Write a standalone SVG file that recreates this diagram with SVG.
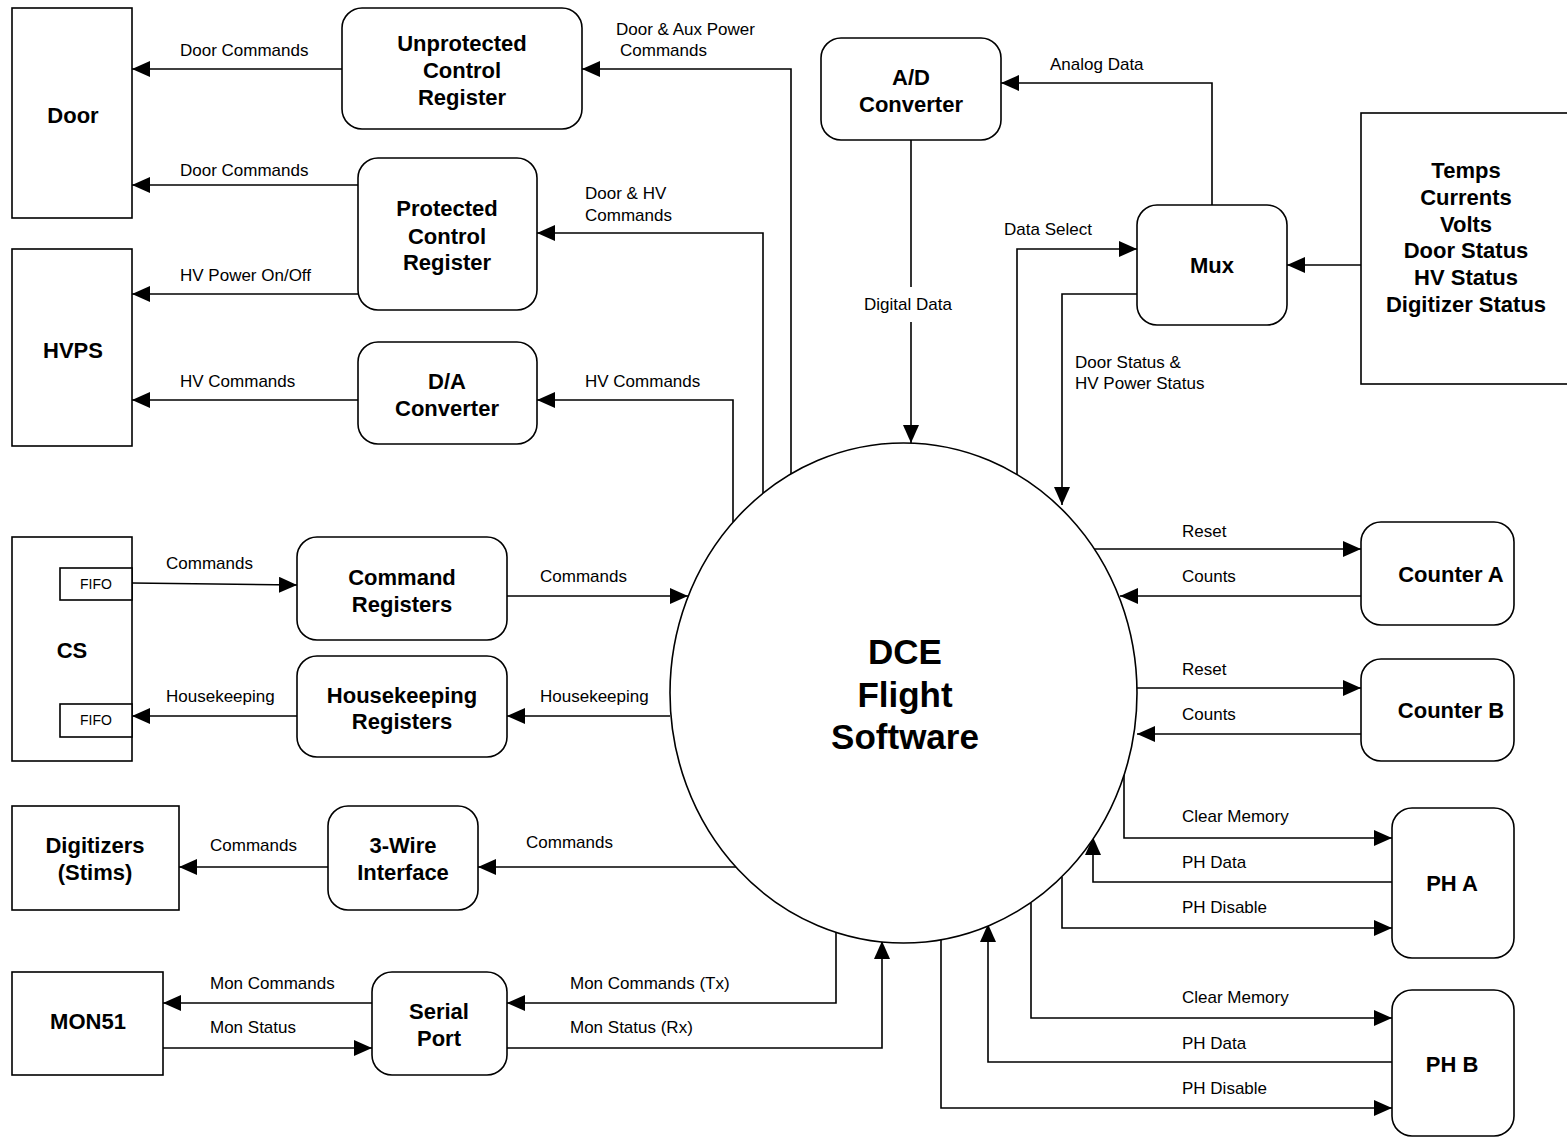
<svg xmlns="http://www.w3.org/2000/svg" width="1567" height="1137" viewBox="0 0 1567 1137">
  <style>
    .box { fill: #fff; stroke: #000; stroke-width: 1.6; }
    .t { font-family: "Liberation Sans", Arial, sans-serif; font-weight: bold; font-size: 22px; text-anchor: middle; fill: #000; }
    .big { font-family: "Liberation Sans", Arial, sans-serif; font-weight: bold; font-size: 35px; text-anchor: middle; fill: #000; }
    .small { font-family: "Liberation Sans", Arial, sans-serif; font-size: 14px; text-anchor: middle; fill: #000; }
    .lbl { font-family: "Liberation Sans", Arial, sans-serif; font-size: 17px; fill: #000; }
    .c { text-anchor: middle; }
    .w { fill: none; stroke: #000; stroke-width: 1.6; }
    .a { marker-end: url(#arr); }
  </style>
  <defs>
    <marker id="arr" markerUnits="userSpaceOnUse" markerWidth="18" markerHeight="16" refX="18" refY="8" orient="auto">
      <path d="M0,0 L18,8 L0,16 z" fill="#000"/>
    </marker>
  </defs>
  <rect width="1567" height="1137" fill="#fff"/>

  <!-- connectors -->
  <g id="connectors">
    <path class="w a" d="M342,69 H132"/>
    <path class="w a" d="M791,474 V69 H582"/>
    <path class="w a" d="M358,185 H132"/>
    <path class="w a" d="M358,294 H132"/>
    <path class="w a" d="M763,493 V233 H537"/>
    <path class="w a" d="M358,400 H132"/>
    <path class="w a" d="M733,522 V400 H537"/>
    <path class="w" d="M911,140 V287"/>
    <path class="w a" d="M911,322 V443"/>
    <path class="w a" d="M1212,205 V83 H1001"/>
    <path class="w a" d="M1361,265 H1287"/>
    <path class="w a" d="M1017,475 V249 H1137"/>
    <path class="w a" d="M1137,294 H1062 V505"/>
    <path class="w a" d="M1094,549 H1361"/>
    <path class="w a" d="M1361,596 H1120"/>
    <path class="w a" d="M1137,688 H1361"/>
    <path class="w a" d="M1361,734 H1137"/>
    <path class="w a" d="M1124,775 V838 H1392"/>
    <path class="w a" d="M1392,882 H1093 V837"/>
    <path class="w a" d="M1062,877 V928 H1392"/>
    <path class="w a" d="M1031,903 V1018 H1392"/>
    <path class="w a" d="M1392,1062 H988 V924"/>
    <path class="w a" d="M941,940 V1108 H1392"/>
    <path class="w a" d="M836,932 V1003 H507"/>
    <path class="w a" d="M507,1048 H882 V941"/>
    <path class="w a" d="M372,1003 H163"/>
    <path class="w a" d="M163,1048 H372"/>
    <path class="w a" d="M736,867 H478"/>
    <path class="w a" d="M328,867 H179"/>
    <path class="w a" d="M132,583 L297,585"/>
    <path class="w a" d="M507,596 H688"/>
    <path class="w a" d="M670,716 H507"/>
    <path class="w a" d="M297,716 H132"/>
  </g>

  <!-- connector labels -->
  <g id="labels" class="lbl">
    <text x="180" y="56">Door Commands</text>
    <text x="616" y="35">Door &amp; Aux Power</text>
    <text x="620" y="56">Commands</text>
    <text x="180" y="176">Door Commands</text>
    <text x="585" y="199">Door &amp; HV</text>
    <text x="585" y="221">Commands</text>
    <text x="180" y="281">HV Power On/Off</text>
    <text x="180" y="387">HV Commands</text>
    <text x="585" y="387">HV Commands</text>
    <text x="1050" y="70">Analog Data</text>
    <text x="1004" y="235">Data Select</text>
    <text x="908" y="310" class="c">Digital Data</text>
    <text x="1075" y="368">Door Status &amp;</text>
    <text x="1075" y="389">HV Power Status</text>
    <text x="1182" y="537">Reset</text>
    <text x="1182" y="582">Counts</text>
    <text x="1182" y="675">Reset</text>
    <text x="1182" y="720">Counts</text>
    <text x="1182" y="822">Clear Memory</text>
    <text x="1182" y="868">PH Data</text>
    <text x="1182" y="913">PH Disable</text>
    <text x="1182" y="1003">Clear Memory</text>
    <text x="1182" y="1049">PH Data</text>
    <text x="1182" y="1094">PH Disable</text>
    <text x="166" y="569">Commands</text>
    <text x="540" y="582">Commands</text>
    <text x="540" y="702">Housekeeping</text>
    <text x="166" y="702">Housekeeping</text>
    <text x="210" y="851">Commands</text>
    <text x="526" y="848">Commands</text>
    <text x="210" y="989">Mon Commands</text>
    <text x="210" y="1033">Mon Status</text>
    <text x="570" y="989">Mon Commands (Tx)</text>
    <text x="570" y="1033">Mon Status (Rx)</text>
  </g>

  <!-- nodes -->
  <g id="door">
    <rect class="box" x="12" y="8" width="120" height="210"/>
    <text class="t" x="73" y="123">Door</text>
  </g>
  <g id="hvps">
    <rect class="box" x="12" y="249" width="120" height="197"/>
    <text class="t" x="73" y="358">HVPS</text>
  </g>
  <g id="unprotected-control-register">
    <rect class="box" x="342" y="8" width="240" height="121" rx="20"/>
    <text class="t" x="462" y="51">Unprotected</text>
    <text class="t" x="462" y="78">Control</text>
    <text class="t" x="462" y="105">Register</text>
  </g>
  <g id="protected-control-register">
    <rect class="box" x="358" y="158" width="179" height="152" rx="20"/>
    <text class="t" x="447" y="216">Protected</text>
    <text class="t" x="447" y="244">Control</text>
    <text class="t" x="447" y="270">Register</text>
  </g>
  <g id="da-converter">
    <rect class="box" x="358" y="342" width="179" height="102" rx="20"/>
    <text class="t" x="447" y="389">D/A</text>
    <text class="t" x="447" y="416">Converter</text>
  </g>
  <g id="ad-converter">
    <rect class="box" x="821" y="38" width="180" height="102" rx="20"/>
    <text class="t" x="911" y="85">A/D</text>
    <text class="t" x="911" y="112">Converter</text>
  </g>
  <g id="mux">
    <rect class="box" x="1137" y="205" width="150" height="120" rx="20"/>
    <text class="t" x="1212" y="273">Mux</text>
  </g>
  <g id="sensors">
    <rect class="box" x="1361" y="113" width="220" height="271"/>
    <text class="t" x="1466" y="178">Temps</text>
    <text class="t" x="1466" y="205">Currents</text>
    <text class="t" x="1466" y="232">Volts</text>
    <text class="t" x="1466" y="258">Door Status</text>
    <text class="t" x="1466" y="285">HV Status</text>
    <text class="t" x="1466" y="312">Digitizer Status</text>
  </g>
  <g id="cs">
    <rect class="box" x="12" y="537" width="120" height="224"/>
    <rect class="box" x="60" y="568" width="72" height="32"/>
    <rect class="box" x="60" y="704" width="72" height="33"/>
    <text class="small" x="96" y="589">FIFO</text>
    <text class="small" x="96" y="725">FIFO</text>
    <text class="t" x="72" y="658">CS</text>
  </g>
  <g id="command-registers">
    <rect class="box" x="297" y="537" width="210" height="103" rx="20"/>
    <text class="t" x="402" y="585">Command</text>
    <text class="t" x="402" y="612">Registers</text>
  </g>
  <g id="housekeeping-registers">
    <rect class="box" x="297" y="656" width="210" height="101" rx="20"/>
    <text class="t" x="402" y="703">Housekeeping</text>
    <text class="t" x="402" y="729">Registers</text>
  </g>
  <g id="digitizers">
    <rect class="box" x="12" y="806" width="167" height="104"/>
    <text class="t" x="95" y="853">Digitizers</text>
    <text class="t" x="95" y="880">(Stims)</text>
  </g>
  <g id="three-wire-interface">
    <rect class="box" x="328" y="806" width="150" height="104" rx="20"/>
    <text class="t" x="403" y="853">3-Wire</text>
    <text class="t" x="403" y="880">Interface</text>
  </g>
  <g id="mon51">
    <rect class="box" x="12" y="972" width="151" height="103"/>
    <text class="t" x="88" y="1029">MON51</text>
  </g>
  <g id="serial-port">
    <rect class="box" x="372" y="972" width="135" height="103" rx="20"/>
    <text class="t" x="439" y="1019">Serial</text>
    <text class="t" x="439" y="1046">Port</text>
  </g>
  <g id="counter-a">
    <rect class="box" x="1361" y="522" width="153" height="103" rx="20"/>
    <text class="t" x="1451" y="582">Counter A</text>
  </g>
  <g id="counter-b">
    <rect class="box" x="1361" y="659" width="153" height="102" rx="20"/>
    <text class="t" x="1451" y="718">Counter B</text>
  </g>
  <g id="ph-a">
    <rect class="box" x="1392" y="808" width="122" height="150" rx="20"/>
    <text class="t" x="1452" y="891">PH A</text>
  </g>
  <g id="ph-b">
    <rect class="box" x="1392" y="990" width="122" height="146" rx="20"/>
    <text class="t" x="1452" y="1072">PH B</text>
  </g>
  <g id="dce-flight-software">
    <ellipse class="box" cx="903.5" cy="693" rx="233.5" ry="250"/>
    <text class="big" x="905" y="664">DCE</text>
    <text class="big" x="905" y="707">Flight</text>
    <text class="big" x="905" y="749">Software</text>
  </g>
</svg>
